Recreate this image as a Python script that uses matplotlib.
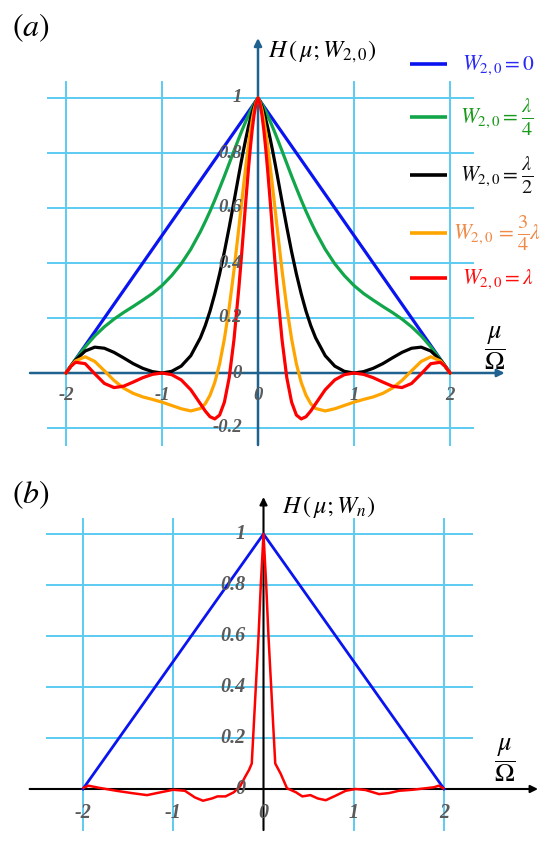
import matplotlib
matplotlib.use("Agg")
import matplotlib.pyplot as plt

plt.rcParams['mathtext.fontset'] = 'stix'
plt.rcParams['font.family'] = ['Liberation Serif', 'DejaVu Serif']

# ---------------- data: panel (a), right half (curves are symmetric) ----------------
mu_half = [0, 0.02, 0.04, 0.06, 0.08, 0.1, 0.125, 0.15, 0.175, 0.2, 0.25, 0.3, 0.35, 0.4,
           0.45, 0.5, 0.55, 0.6, 0.7, 0.8, 0.9, 1.0, 1.1, 1.2, 1.3, 1.4, 1.5, 1.6, 1.7,
           1.8, 1.9, 1.95, 2.0]
h_w0 = [1.000, 0.990, 0.980, 0.970, 0.960, 0.950, 0.9375, 0.925, 0.9125, 0.900, 0.875, 0.850,
        0.825, 0.800, 0.775, 0.750, 0.725, 0.700, 0.650, 0.600, 0.550, 0.500, 0.450, 0.400,
        0.350, 0.300, 0.250, 0.200, 0.150, 0.100, 0.050, 0.025, 0.000]
h_wq = [1.000, 0.989, 0.978, 0.965, 0.951, 0.936, 0.917, 0.896, 0.875, 0.853, 0.808, 0.762,
        0.716, 0.672, 0.629, 0.588, 0.550, 0.514, 0.450, 0.397, 0.354, 0.318, 0.289, 0.265,
        0.242, 0.220, 0.196, 0.168, 0.135, 0.095, 0.049, 0.025, 0.000]
h_wh = [1.000, 0.987, 0.970, 0.949, 0.923, 0.895, 0.855, 0.812, 0.767, 0.720, 0.624, 0.530,
        0.441, 0.360, 0.288, 0.225, 0.172, 0.128, 0.063, 0.025, 0.006, 0.000, 0.005, 0.017,
        0.034, 0.055, 0.075, 0.090, 0.094, 0.080, 0.047, 0.025, 0.000]
h_w34 = [1.000, 0.984, 0.958, 0.922, 0.878, 0.828, 0.758, 0.683, 0.605, 0.526, 0.374, 0.238,
         0.124, 0.033, -0.034, -0.081, -0.112, -0.129, -0.138, -0.130, -0.118, -0.106, -0.096,
         -0.087, -0.074, -0.055, -0.027, 0.008, 0.042, 0.059, 0.044, 0.024, 0.000]
h_w1 = [1.000, 0.980, 0.941, 0.886, 0.818, 0.740, 0.634, 0.523, 0.412, 0.307, 0.122, -0.017,
        -0.106, -0.153, -0.167, -0.159, -0.138, -0.112, -0.061, -0.025, -0.006, 0.000, -0.005,
        -0.017, -0.033, -0.048, -0.053, -0.038, -0.003, 0.034, 0.039, 0.024, 0.000]

# ---------------- data: panel (b) ----------------
mu_tri = [-2, 0, 2]
h_tri = [0, 1, 0]
mu_n = [-1.99, -1.94, -1.81, -1.63, -1.46, -1.29, -1.14, -1.0, -0.87, -0.76, -0.67, -0.57,
        -0.51, -0.42, -0.33, -0.26, -0.2, -0.16, -0.13, -0.115, -0.1, -0.085, -0.055, -0.03,
        0.0, 0.03, 0.055, 0.085, 0.1, 0.115, 0.13, 0.16, 0.19, 0.26, 0.36, 0.43, 0.52, 0.6,
        0.69, 0.8, 0.91, 1.02, 1.13, 1.28, 1.39, 1.5, 1.65, 1.8, 1.89, 1.94, 1.99]
h_n = [0.005, 0.013, 0.004, -0.007, -0.016, -0.024, -0.013, -0.003, -0.007, -0.033, -0.046,
       -0.037, -0.029, -0.029, -0.013, 0.010, 0.05, 0.075, 0.1, 0.2, 0.3, 0.4, 0.6, 0.8, 1.0,
       0.8, 0.6, 0.4, 0.3, 0.2, 0.1, 0.08, 0.06, 0.003, -0.013, -0.029, -0.024, -0.037, -0.044,
       -0.026, -0.007, 0.0, -0.004, -0.020, -0.016, -0.007, -0.003, 0.003, 0.007, 0.013, 0.003]

xticks = [-2, -1, 0, 1, 2]
xtick_labels = ['-2', '-1', '0', '1', '2']
yticks_a = [1, 0.8, 0.6, 0.4, 0.2, 0, -0.2]
ytick_labels_a = ['1', '0.8', '0.6', '0.4', '0.2', '0', '-0.2']
yticks_b = [1, 0.8, 0.6, 0.4, 0.2, 0]
ytick_labels_b = ['1', '0.8', '0.6', '0.4', '0.2', '0']

legend_main = [r'$W_{2,0}=0$', r'$W_{2,0}=$', r'$W_{2,0}=$', r'$W_{2,0}\,{=}$', r'$W_{2,0}=\lambda$']
legend_frac = [None, r'$\frac{\lambda}{4}$', r'$\frac{\lambda}{2}$', r'$\frac{3}{4}$', None]
legend_tail = [None, None, None, r'$\lambda$', None]

# ---------------- style ----------------
line_cols = ['#0a14f0', '#12a64a', '#000000', '#ffa500', '#ff0000']
text_cols = ['#2a2af5', '#1a9a1a', '#111111', '#f08a48', '#ff1010']
grid_col = '#5ccbf2'
tick_col = '#5a5a5a'
W, H = 550, 842

fig = plt.figure(figsize=(W / 100, H / 100), dpi=100)
renderer = fig.canvas.get_renderer()


def make_axes(top, bottom, x0, sx, y0, sy):
    ax = fig.add_axes([0, 1 - bottom / H, 1, (bottom - top) / H])
    ax.set_xlim((0 - x0) / sx, (W - x0) / sx)
    ax.set_ylim((y0 - bottom) / sy, (y0 - top) / sy)
    ax.axis('off')
    return ax


def arrow(ax, start, end, col, lw):
    ax.annotate('', xy=end, xytext=start, annotation_clip=False,
                arrowprops=dict(arrowstyle='-|>', color=col, lw=lw, mutation_scale=11,
                                shrinkA=0, shrinkB=0))


def right_edge(ax, artist, pad_px):
    bb = artist.get_window_extent(renderer)
    return ax.transData.inverted().transform((bb.x1 + pad_px, 0))[0]


tick_font = dict(family='Liberation Serif', weight='bold', style='italic', color=tick_col)

# ================= panel (a) =================
axa = make_axes(0, 455, 258, 96, 373, 275)
for yv in [1, 0.8, 0.6, 0.4, 0.2, -0.2]:
    axa.plot([-2.19, 2.24], [yv, yv], color=grid_col, lw=1.4, zorder=1)
for xv in [-2, -1, 1, 2]:
    axa.plot([xv, xv], [-0.262, 1.058], color=grid_col, lw=1.4, zorder=1)

axis_col_a = '#20628f'
arrow(axa, (-2.375, 0), (2.57, 0), axis_col_a, 1.8)
arrow(axa, (0, -0.262), (0, 1.218), axis_col_a, 1.8)

mu_full = [-m for m in mu_half[::-1]] + mu_half[1:]
curves = [h_w0, h_wq, h_wh, h_w34, h_w1]
for hc, col in zip(curves, line_cols):
    hfull = hc[::-1] + hc[1:]
    axa.plot(mu_full, hfull, color=col, lw=2.3, zorder=3, solid_capstyle='round')

for xv, lab in zip(xticks, xtick_labels):
    axa.text(xv, -0.08, lab, ha='center', va='center', fontsize=13.5, zorder=4, **tick_font)
for yv, lab in zip(yticks_a, ytick_labels_a):
    axa.text(-0.165, yv, lab, ha='right', va='center', fontsize=13.5, zorder=4, **tick_font)

axa.text(0.10, 1.167, r'$H\,\left(\,\mu;W_{2,0}\right)$', ha='left', va='center', fontsize=17.5)
axa.text(2.47, 0.091, r'$\dfrac{\mu}{\Omega}$', ha='center', va='center', fontsize=19)

leg_y = [1.124, 0.931, 0.720, 0.509, 0.345]
leg_tx = [2.13, 2.10, 2.10, 2.03, 2.13]
for i in range(5):
    yv = leg_y[i]
    tc = text_cols[i]
    axa.plot([1.583, 1.969], [yv, yv], color=line_cols[i], lw=2.6, zorder=3,
             solid_capstyle='butt')
    t = axa.text(leg_tx[i], yv - 0.02, legend_main[i], color=tc, ha='left', va='baseline',
                 fontsize=15.5)
    if legend_frac[i] is not None:
        xf = right_edge(axa, t, 3)
        tf = axa.text(xf, yv, legend_frac[i], color=tc, ha='left', va='center', fontsize=21)
        if legend_tail[i] is not None:
            xt = right_edge(axa, tf, 0)
            axa.text(xt, yv - 0.02, legend_tail[i], color=tc, ha='left', va='baseline',
                     fontsize=15.5)

fig.text(12 / W, 1 - 28 / H, r'$(a)$', fontsize=23, ha='left', va='center')

# ================= panel (b) =================
axb = make_axes(455, 842, 263.5, 90.3, 789, 255)
for yv in [1, 0.8, 0.6, 0.4, 0.2]:
    axb.plot([-2.40, 2.31], [yv, yv], color=grid_col, lw=1.4, zorder=1)
for xv in [-2, -1, 1, 2]:
    axb.plot([xv, xv], [-0.161, 1.059], color=grid_col, lw=1.4, zorder=1)

arrow(axb, (-2.59, 0), (3.04, 0), '#000000', 1.5)
arrow(axb, (0, -0.161), (0, 1.145), '#000000', 1.5)

axb.plot(mu_tri, h_tri, color=line_cols[0], lw=2.0, zorder=3)
axb.plot(mu_n, h_n, color=line_cols[4], lw=1.8, zorder=3)

for xv, lab in zip(xticks, xtick_labels):
    axb.text(xv, -0.094, lab, ha='center', va='center', fontsize=14.5, zorder=4, **tick_font)
for yv, lab in zip(yticks_b, ytick_labels_b):
    axb.text(-0.2, yv, lab, ha='right', va='center', fontsize=14.5, zorder=4, **tick_font)

axb.text(0.205, 1.106, r'$H\,\left(\,\mu;W_{n}\right)$', ha='left', va='center', fontsize=17.5)
axb.text(2.67, 0.114, r'$\dfrac{\mu}{\Omega}$', ha='center', va='center', fontsize=19)

fig.text(12 / W, 1 - 495 / H, r'$(b)$', fontsize=23, ha='left', va='center')

fig.savefig('out.png', dpi=100)
